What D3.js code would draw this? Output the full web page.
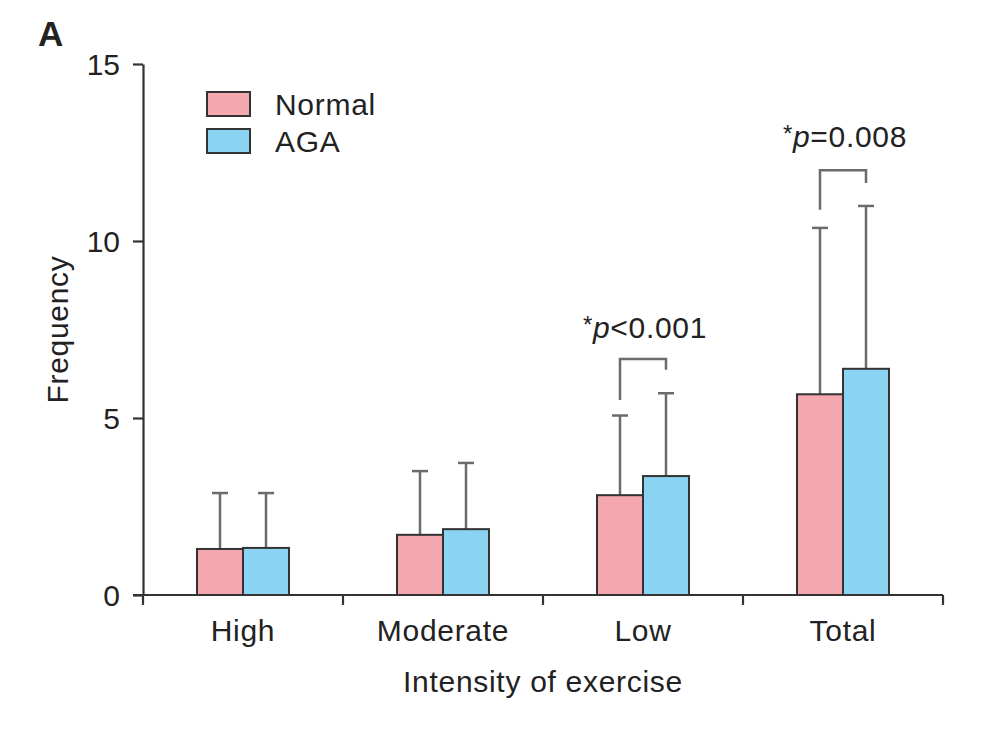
<!DOCTYPE html>
<html><head><meta charset="utf-8">
<script src="https://cdn.jsdelivr.net/npm/d3@7"></script>
<style>
body{margin:0;background:#fff;}
text{font-family:"Liberation Sans",Arial,sans-serif;fill:#222;}
</style></head>
<body><svg id="c" width="986" height="736"></svg>
<script>
const categories = ["High","Moderate","Low","Total"];
const seriesNames = ["Normal","AGA"];
const normalMean = [1.30, 1.70, 2.82, 5.67];
const normalSD   = [1.58, 1.80, 2.25, 4.70];
const agaMean    = [1.33, 1.86, 3.36, 6.39];
const agaSD      = [1.55, 1.87, 2.34, 4.60];
const yTicks = [0, 5, 10, 15];
const colors = ["#f5a7af", "#8bd3f3"];
// significance annotations
const sigCats   = ["Low", "Total"];
const sigTop    = [6.67, 12.0];
const sigLeft   = [5.51, 10.88];
const sigRight  = [6.36, 11.64];
const sigLabelY = [7.26, 12.66];
const sigOp     = ["<", "="];
const sigVal    = ["0.001", "0.008"];

const svg = d3.select("#c");
const mLeft = 143, mRight = 943, mTop = 64, mBottom = 595;
const x = d3.scaleBand().domain(categories).range([mLeft, mRight]).paddingInner(0).paddingOuter(0);
const y = d3.scaleLinear().domain([0, 15]).range([mBottom, mTop]);
const barW = 46;
const axisColor = "#333";
const fs = 30, ls = "0.7px";

// y axis
const yAxis = svg.append("g").attr("transform", `translate(${mLeft},0)`)
  .call(d3.axisLeft(y).tickValues(yTicks).tickSize(10).tickPadding(13).tickSizeOuter(0));
yAxis.select(".domain").attr("stroke", axisColor).attr("stroke-width", 2.2);
yAxis.selectAll(".tick line").attr("stroke", axisColor).attr("stroke-width", 2.2);
yAxis.selectAll(".tick text").attr("font-size", fs).attr("fill", "#222")
  .attr("font-family", "Liberation Sans, Arial, sans-serif").attr("dy", "0.36em");

// x axis with ticks at band boundaries
const xAxisG = svg.append("g").attr("transform", `translate(0,${mBottom})`);
xAxisG.append("line").attr("x1", mLeft - 10).attr("x2", mRight).attr("y1", 0).attr("y2", 0)
  .attr("stroke", axisColor).attr("stroke-width", 2.2);
const bounds = categories.map(c => x(c)).concat([mRight]);
xAxisG.selectAll("line.tk").data(bounds).join("line").attr("class","tk")
  .attr("x1", d => d).attr("x2", d => d).attr("y1", 0).attr("y2", 10)
  .attr("stroke", axisColor).attr("stroke-width", 2.2);
xAxisG.selectAll("text.lbl").data(categories).join("text").attr("class","lbl")
  .attr("x", d => x(d) + x.bandwidth()/2).attr("y", 46)
  .attr("text-anchor", "middle").attr("font-size", fs).style("letter-spacing", ls).text(d => d);

// axis titles
svg.append("text").attr("transform", `translate(68,${y(7.5)}) rotate(-90)`)
  .attr("text-anchor", "middle").attr("font-size", fs).style("letter-spacing", ls).text("Frequency");
svg.append("text").attr("x", (mLeft + mRight)/2).attr("y", 692)
  .attr("text-anchor", "middle").attr("font-size", fs).style("letter-spacing", ls).text("Intensity of exercise");
svg.append("text").attr("x", 38).attr("y", 46).attr("font-size", 35).attr("font-weight", "bold").text("A");

// bars
const series = [
  {name: seriesNames[0], mean: normalMean, sd: normalSD, color: colors[0], off: -barW},
  {name: seriesNames[1], mean: agaMean, sd: agaSD, color: colors[1], off: 0}
];
series.forEach(s => {
  const g = svg.append("g");
  const data = categories.map((c, i) => ({c, m: s.mean[i], sd: s.sd[i]}));
  g.selectAll("line.eb").data(data).join("line").attr("class","eb")
    .attr("x1", d => x(d.c) + x.bandwidth()/2 + s.off + barW/2)
    .attr("x2", d => x(d.c) + x.bandwidth()/2 + s.off + barW/2)
    .attr("y1", d => y(d.m)).attr("y2", d => y(d.m + d.sd))
    .attr("stroke", "#6b6b6b").attr("stroke-width", 2.5);
  g.selectAll("line.cap").data(data).join("line").attr("class","cap")
    .attr("x1", d => x(d.c) + x.bandwidth()/2 + s.off + barW/2 - 8)
    .attr("x2", d => x(d.c) + x.bandwidth()/2 + s.off + barW/2 + 8)
    .attr("y1", d => y(d.m + d.sd)).attr("y2", d => y(d.m + d.sd))
    .attr("stroke", "#6b6b6b").attr("stroke-width", 2.5);
  g.selectAll("rect").data(data).join("rect")
    .attr("x", d => x(d.c) + x.bandwidth()/2 + s.off)
    .attr("width", barW)
    .attr("y", d => y(d.m)).attr("height", d => y(0) - y(d.m))
    .attr("fill", s.color).attr("stroke", "#333").attr("stroke-width", 2);
});

// significance brackets
sigCats.forEach((c, i) => {
  const cx = x(c) + x.bandwidth()/2;
  const xl = cx - barW/2, xr = cx + barW/2;
  svg.append("path")
    .attr("d", `M${xl},${y(sigLeft[i])}V${y(sigTop[i])}H${xr}V${y(sigRight[i])}`)
    .attr("fill", "none").attr("stroke", "#6b6b6b").attr("stroke-width", 2.5);
  const t = svg.append("text").attr("x", cx + 2).attr("y", y(sigLabelY[i]))
    .attr("text-anchor", "middle").attr("font-size", fs).style("letter-spacing", ls);
  t.append("tspan").attr("font-size", 24).attr("dy", -5).text("*");
  t.append("tspan").attr("font-style", "italic").attr("dy", 5).text("p");
  t.append("tspan").text(sigOp[i] + sigVal[i]);
});

// legend
const lg = svg.append("g");
series.forEach((s, i) => {
  lg.append("rect").attr("x", 207).attr("y", 92 + i*37).attr("width", 43).attr("height", 24)
    .attr("fill", s.color).attr("stroke", "#333").attr("stroke-width", 2);
  lg.append("text").attr("x", 275).attr("y", 115 + i*37).attr("font-size", fs)
    .style("letter-spacing", ls).text(s.name);
});
</script></body></html>
